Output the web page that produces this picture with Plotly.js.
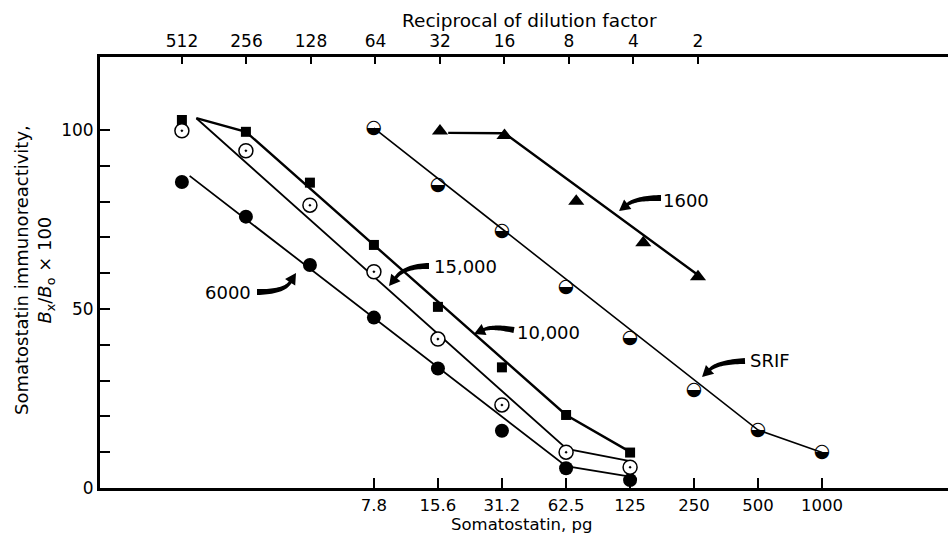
<!DOCTYPE html>
<html><head><meta charset="utf-8">
<script src="https://cdn.plot.ly/plotly-3.0.1.min.js"></script>
<style>html,body{margin:0;padding:0;background:#fff}</style>
</head><body>
<div id="chart" style="width:949px;height:534px"></div>
<script>
// ---- tick labels ----
const pgTickVals = [7.8, 15.6, 31.2, 62.5, 125, 250, 500, 1000];
const pgTickText = ['7.8', '15.6', '31.2', '62.5', '125', '250', '500', '1000'];
const dilTickVals = [512, 256, 128, 64, 32, 16, 8, 4, 2];
const dilTickText = ['512', '256', '128', '64', '32', '16', '8', '4', '2'];
const yTickVals = [0, 50, 100];
const yTickText = ['0', '50', '100'];
const yMinorTicks = [10, 20, 30, 40, 60, 70, 80, 90];
const yRightTicks = [10, 20, 30, 40, 50, 60, 70, 80, 90, 100];

// ---- data: samples plotted vs pg (bottom axis) ----
const pgSample = [0.975, 1.95, 3.9, 7.8, 15.6, 31.2, 62.5, 125];
const y6000 = [85.5, 75.8, 62.3, 47.6, 33.4, 16.0, 5.5, 2.2];
const y10000 = [102.8, 99.5, 85.3, 67.9, 50.6, 33.7, 20.4, 9.9];
const y15000 = [99.8, 94.2, 79.0, 60.4, 41.6, 23.2, 10.0, 5.8];
// SRIF standard
const pgSRIF = [7.8, 15.6, 31.2, 62.5, 125, 250, 500, 1000];
const ySRIF = [100.5, 84.6, 71.6, 56.1, 41.8, 27.2, 16.2, 9.9];
// sample 1600 plotted vs reciprocal of dilution (top axis), positions as drawn
const dil1600 = [32, 16, 7.4, 3.6, 2];
const y1600 = [99.7, 98.5, 80.1, 68.5, 59.0];

// ---- hand-drawn curves ----
const fit6000X = [1.06, 62.5, 127];        const fit6000Y = [87.2, 6.1, 3.1];
const fit10000X = [1.14, 1.95, 62.5, 125]; const fit10000Y = [103.3, 99.5, 20.4, 10.1];
const fit15000X = [1.14, 63, 125];         const fit15000Y = [103.3, 10.9, 7.5];
const fitSRIFX = [7.8, 500, 1000];         const fitSRIFY = [100.5, 16.2, 9.9];
const fit1600X = [29.3, 16, 2];            const fit1600Y = [99.2, 99.1, 59.5];

const FONT = 'DejaVu Sans';
const L = 100, T = 57, W = 848, H = 431;
const px = v => (v - L) / W;
const py = v => (T + H - v) / H;

function arrowShape(p0, c, p1, w0, w1, hl, hw) {
  const dx = p1[0] - c[0], dy = p1[1] - c[1];
  const d = Math.hypot(dx, dy), ux = dx / d, uy = dy / d;
  const b = [p1[0] - ux * hl, p1[1] - uy * hl];
  const N = 20, left = [], right = [];
  for (let i = 0; i <= N; i++) {
    const t = i / N;
    const x = (1 - t) * (1 - t) * p0[0] + 2 * (1 - t) * t * c[0] + t * t * b[0];
    const y = (1 - t) * (1 - t) * p0[1] + 2 * (1 - t) * t * c[1] + t * t * b[1];
    const tx = 2 * (1 - t) * (c[0] - p0[0]) + 2 * t * (b[0] - c[0]);
    const ty = 2 * (1 - t) * (c[1] - p0[1]) + 2 * t * (b[1] - c[1]);
    const tl = Math.hypot(tx, ty), nx = -ty / tl, ny = tx / tl;
    const w = w0 + (w1 - w0) * t;
    left.push([x + nx * w, y + ny * w]);
    right.push([x - nx * w, y - ny * w]);
  }
  const nx = -uy, ny = ux;
  const pts = [...left, [b[0] + nx * hw, b[1] + ny * hw], p1, [b[0] - nx * hw, b[1] - ny * hw], ...right.reverse()];
  const path = 'M' + pts.map(p => px(p[0]).toFixed(5) + ',' + py(p[1]).toFixed(5)).join('L') + 'Z';
  return {type: 'path', xref: 'paper', yref: 'paper', path: path, fillcolor: '#000', line: {width: 0}, layer: 'above'};
}

function fitLine(x, y, w, axis) {
  return {x: x, y: y, xaxis: axis || 'x', yaxis: 'y', mode: 'lines', line: {color: '#000', width: w}, hoverinfo: 'skip', showlegend: false};
}

const traces = [
  fitLine(fit6000X, fit6000Y, 1.8),
  fitLine(fit10000X, fit10000Y, 2.4),
  fitLine(fit15000X, fit15000Y, 1.8),
  fitLine(fitSRIFX, fitSRIFY, 1.6),
  fitLine(fit1600X, fit1600Y, 2.4, 'x2'),
  {x: pgSample, y: y6000, mode: 'markers', name: '6000',
   marker: {symbol: 'circle', size: 14, color: '#000'}},
  {x: pgSample, y: y10000, mode: 'markers', name: '10,000',
   marker: {symbol: 'square', size: 10, color: '#000'}},
  {x: pgSample, y: y15000, mode: 'markers', name: '15,000',
   marker: {symbol: 'circle-dot', size: 14, color: '#fff', line: {color: '#000', width: 1.5}}},
  {x: pgSRIF, y: ySRIF, mode: 'text', name: 'SRIF', text: pgSRIF.map(() => '\u25D2'),
   textposition: 'middle center', textfont: {family: FONT, size: 19, color: '#000'}},
  {x: dil1600, y: y1600, xaxis: 'x2', yaxis: 'y', mode: 'markers', name: '1600',
   marker: {symbol: 'triangle-up', size: 14, color: '#000'}}
];

function label(text, x, y, size) {
  return {text: text, x: px(x), y: py(y), xref: 'paper', yref: 'paper', showarrow: false,
          xanchor: 'center', yanchor: 'middle', font: {family: FONT, size: size || 18, color: '#000'}};
}

const annotations = [
  label('6000', 228, 292),
  label('15,000', 465, 266),
  label('10,000', 548, 332),
  label('1600', 686, 200),
  label('SRIF', 770, 360),
  label('Reciprocal of dilution factor', 529, 21, 18.5),
  label('Somatostatin, pg', 521, 524, 16.5),
  Object.assign(label('Somatostatin immunoreactivity,<br><i>B</i><sub>x</sub>/<i>B</i><sub>o</sub> × 100', 34, 270), {textangle: -90})
];

const shapes = [
  arrowShape([257, 292], [284, 292], [296, 273], 3.0, 1.6, 11, 6),
  arrowShape([429, 266], [405, 266], [389, 286], 3.0, 1.6, 11, 6),
  arrowShape([514, 330], [492, 326], [474, 334], 3.0, 1.6, 11, 6),
  arrowShape([661, 198], [636, 198], [619, 211], 3.0, 1.6, 11, 6),
  arrowShape([745, 361], [718, 362], [702, 377], 3.0, 1.6, 11, 6)
];

const tickFont = {family: FONT, size: 17, color: '#000'};
const layout = {
  width: 949, height: 534,
  margin: {l: L, r: 949 - L - W, t: T, b: 534 - T - H},
  paper_bgcolor: '#fff', plot_bgcolor: '#fff',
  showlegend: false,
  xaxis: {type: 'log', range: [Math.log10(0.4016), Math.log10(3909)],
          tickmode: 'array', tickvals: pgTickVals, ticktext: pgTickText,
          ticks: 'inside', ticklen: 10, tickwidth: 2, tickcolor: '#000',
          showline: true, linewidth: 3, linecolor: '#000', showgrid: false, zeroline: false,
          tickfont: {family: FONT, size: 16.5, color: '#000'}},
  xaxis2: {type: 'log', overlaying: 'x', side: 'top', anchor: 'y',
           range: [Math.log10(1235.8), Math.log10(0.1362)],
           tickmode: 'array', tickvals: dilTickVals, ticktext: dilTickText,
           ticks: 'inside', ticklen: 7, tickwidth: 2, tickcolor: '#000',
           showline: true, linewidth: 3, linecolor: '#000', showgrid: false, zeroline: false,
           tickfont: tickFont},
  yaxis: {range: [0, 120.4], tickmode: 'array', tickvals: yTickVals, ticktext: yTickText,
          ticks: 'inside', ticklen: 10, tickwidth: 2, tickcolor: '#000',
          minor: {tickmode: 'array', tickvals: yMinorTicks, ticks: 'inside', ticklen: 10,
                  tickwidth: 2, tickcolor: '#000', showgrid: false},
          showline: true, linewidth: 3, linecolor: '#000', showgrid: false, zeroline: false,
          tickfont: tickFont},
  yaxis2: {range: [0, 120.4], overlaying: 'y', side: 'right', anchor: 'x',
           tickmode: 'array', tickvals: yRightTicks, showticklabels: false,
           ticks: 'inside', ticklen: 8, tickwidth: 2.5, tickcolor: '#000',
           showline: true, linewidth: 1.5, linecolor: '#000', showgrid: false, zeroline: false},
  annotations: annotations,
  shapes: shapes
};

Plotly.newPlot('chart', traces, layout, {staticPlot: true, displayModeBar: false});
</script>
</body></html>
